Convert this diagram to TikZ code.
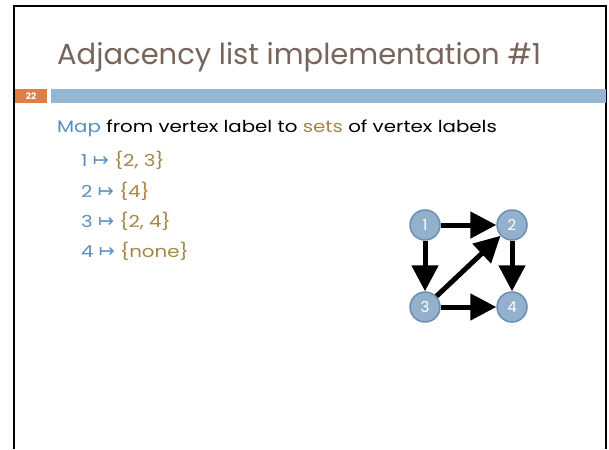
\documentclass[tikz,border=0pt]{standalone}
\usepackage{fontspec}
\setmainfont{Poppins}
\newfontfamily\bodyfont[FakeStretch=1.2]{Poppins}
\newfontfamily\symfont{DejaVu Sans}
\usetikzlibrary{arrows.meta}
\definecolor{titlec}{HTML}{77655B}
\definecolor{bluec}{HTML}{5B8EC0}
\definecolor{goldc}{HTML}{A88546}
\definecolor{barc}{HTML}{94B6D2}
\definecolor{orangec}{HTML}{DD8047}
\definecolor{nodefill}{HTML}{93B1CD}
\definecolor{nodeline}{HTML}{6C8EB0}
\tikzset{
  vtx/.style={circle, fill=nodefill, draw=nodeline, line width=1.5pt, minimum size=30pt, inner sep=0pt, text=white, font=\fontsize{15}{15}\selectfont},
  edge/.style={line width=5pt, -{Triangle[length=26pt,width=26pt]}},
  body/.style={anchor=base west, inner sep=0pt, font=\bodyfont\fontsize{16.5}{16.5}\selectfont},
}
\newcommand{\mt}{{\symfont\fontsize{19}{19}\selectfont ↦}}
\begin{document}
\begin{tikzpicture}[x=1pt,y=-1pt]
\useasboundingbox (0,0) rectangle (609,449);
\fill[white] (0,0) rectangle (609,449);
\draw[line width=2.5pt] (14,449) -- (14,6) -- (606,6) -- (606,449);
\node[anchor=base west, inner sep=0pt, text=titlec, font=\fontsize{29}{29}\selectfont] (title) at (57,65) {Adjacency list implementation \#1};
\fill[orangec] (15,89) rectangle (47,103);
\node[text=white, font=\bfseries\fontsize{9}{9}\selectfont, inner sep=0pt] (num) at (31,96) {22};
\fill[barc] (51,89) rectangle (606,103);
\node[body] (map) at (57,132) {\textcolor{bluec}{Map} from vertex label to \textcolor{goldc}{sets} of vertex labels};
\node[body, text=bluec] (l1) at (81,166) {1 \mt{} \textcolor{goldc}{\{2, 3\}}};
\node[body, text=bluec] (l2) at (81,197) {2 \mt{} \textcolor{goldc}{\{4\}}};
\node[body, text=bluec] (l3) at (81,227) {3 \mt{} \textcolor{goldc}{\{2, 4\}}};
\node[body, text=bluec] (l4) at (81,257) {4 \mt{} \textcolor{goldc}{\{none\}}};
\node[vtx] (v1) at (425,225) {1};
\node[vtx] (v2) at (512,225) {2};
\node[vtx] (v3) at (425,307) {3};
\node[vtx] (v4) at (512,307) {4};
\draw[edge] (v1) -- (v2);
\draw[edge] (v1) -- (v3);
\draw[edge] (v2) -- (v4);
\draw[edge] (v3) -- (v4);
\draw[edge] (v3) -- (v2);
\end{tikzpicture}
\end{document}
